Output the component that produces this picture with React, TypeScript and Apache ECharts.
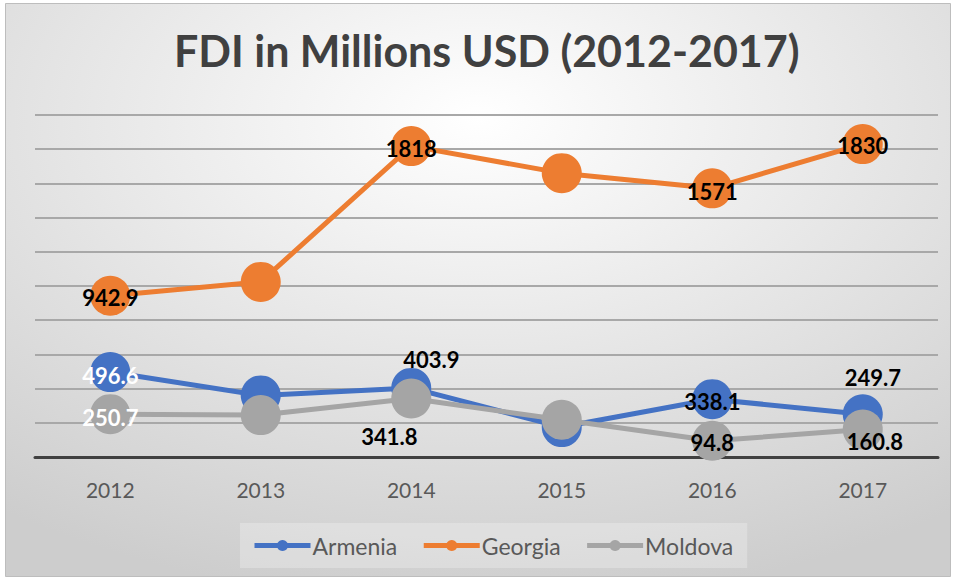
import React, { useEffect, useRef } from "react";
import * as echarts from "echarts";

const years = ["2012", "2013", "2014", "2015", "2016", "2017"];
const armenia = [496.6, 360, 403.9, 175, 338.1, 249.7];
const georgia = [942.9, 1024, 1818, 1660, 1571, 1830];
const moldova = [250.7, 245, 341.8, 218, 94.8, 160.8];

// which points show a label, with label colour and offset
const armeniaLabels: (null | [string, number, number])[] = [
  ["#ffffff", 0, 3], null, ["#000000", 20, -28], null, ["#000000", 0, 2], ["#000000", 10, -37],
];
const georgiaLabels: (null | [string, number, number])[] = [
  ["#000000", 0, 2], null, ["#000000", 0, 2], null, ["#000000", 0, 3], ["#000000", 0, 1],
];
const moldovaLabels: (null | [string, number, number])[] = [
  ["#ffffff", 0, 3], null, ["#000000", -22, 38], null, ["#000000", 0, 2], ["#000000", 12, 12],
];

const FONT = "Lato, 'Open Sans', sans-serif";

function buildData(values: number[], labels: (null | [string, number, number])[]) {
  return values.map((v, i) => {
    const l = labels[i];
    if (!l) return { value: v, label: { show: false } };
    return {
      value: v,
      label: {
        show: true,
        position: "inside",
        color: l[0],
        offset: [l[1], l[2]],
        fontSize: 22,
        fontWeight: "bold",
        fontFamily: FONT,
      },
    };
  });
}

export default function App() {
  const ref = useRef<HTMLDivElement>(null);
  useEffect(() => {
    document.body.style.margin = "0";
    const chart = echarts.init(ref.current!, undefined, { renderer: "svg" });
    const mkSeries = (name: string, color: string, values: number[], labels: any, z: number) => ({
      name,
      type: "line",
      data: buildData(values, labels),
      symbol: "circle",
      symbolSize: 40,
      z,
      lineStyle: { color, width: 5 },
      itemStyle: { color },
      label: { show: true },
    });
    chart.setOption({
      animation: false,
      backgroundColor: "#ffffff",
      graphic: [
        {
          type: "rect",
          z: -10,
          silent: true,
          shape: { x: 5.5, y: 3.5, width: 945, height: 573 },
          style: {
            fill: new echarts.graphic.RadialGradient(0.5, 0.2, 0.85, [
              { offset: 0, color: "#ffffff" },
              { offset: 1, color: "#cdcdcd" },
            ]),
            stroke: "#bdbdbd",
            lineWidth: 1,
          },
        },
      ],
      title: {
        text: "FDI in Millions USD (2012-2017)",
        left: 169,
        top: 24,
        textStyle: {
          fontFamily: FONT,
          fontSize: 43,
          fontWeight: "bold",
          color: "#404040",
        },
      },
      legend: {
        bottom: 11,
        left: 240,
        itemWidth: 56,
        itemHeight: 14,
        itemGap: 24,
        padding: [11, 14, 11, 12],
        backgroundColor: "rgba(255,255,255,0.25)",
        lineStyle: { width: 5 },
        textStyle: { fontFamily: FONT, fontSize: 23, color: "#595959", padding: [0, 0, 0, -3] },
        data: ["Armenia", "Georgia", "Moldova"],
      },
      grid: { left: 35, right: 18, top: 115, bottom: 122, containLabel: false },
      xAxis: {
        type: "category",
        data: years,
        boundaryGap: true,
        axisLine: { lineStyle: { color: "#404040", width: 3 } },
        axisTick: { show: false },
        axisLabel: { color: "#595959", fontSize: 21, fontFamily: FONT, margin: 22 },
      },
      yAxis: {
        type: "value",
        min: 0,
        max: 2000,
        interval: 200,
        axisLabel: { show: false },
        axisLine: { show: false },
        axisTick: { show: false },
        splitLine: { lineStyle: { color: "#a8a8a8", width: 2 } },
      },
      series: [
        mkSeries("Armenia", "#4472C4", armenia, armeniaLabels, 2),
        mkSeries("Georgia", "#ED7D31", georgia, georgiaLabels, 3),
        mkSeries("Moldova", "#A5A5A5", moldova, moldovaLabels, 4),
      ],
    });
    return () => chart.dispose();
  }, []);
  return <div ref={ref} style={{ width: 956, height: 579 }} />;
}
